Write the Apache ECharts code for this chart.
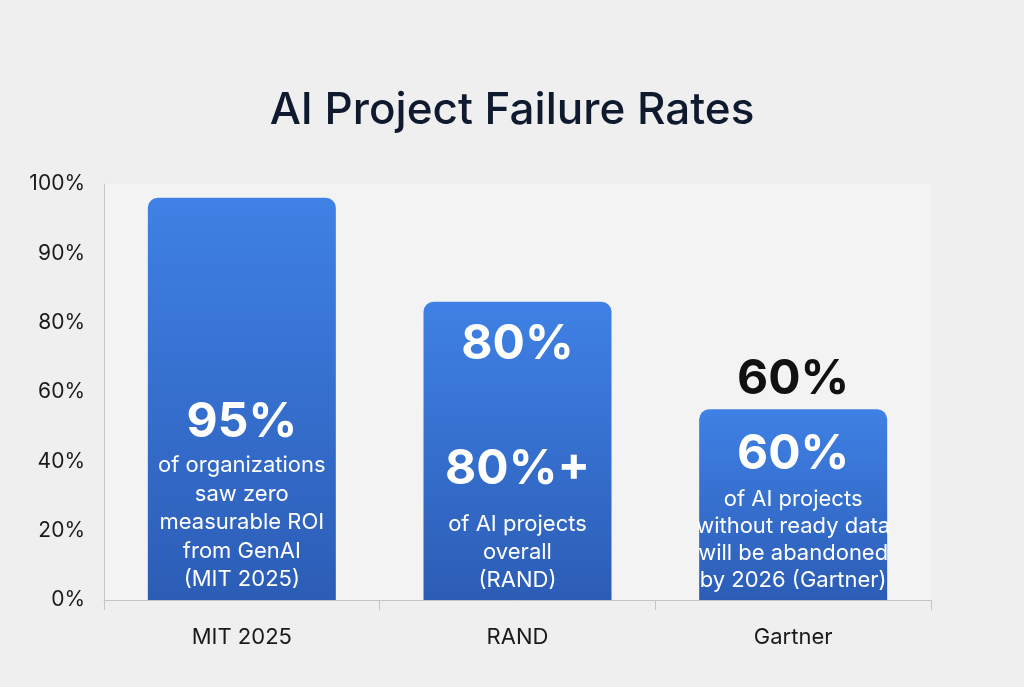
<!DOCTYPE html>
<html>
<head>
<meta charset="utf-8">
<title>AI Project Failure Rates</title>
<script src="https://cdn.jsdelivr.net/npm/echarts@6/dist/echarts.min.js"></script>
<style>
  html, body { margin: 0; padding: 0; background: #efefef; }
  #chart { width: 1024px; height: 687px; }
</style>
</head>
<body>
<div id="chart"></div>
<script>
// Données du graphique
const categories = ['MIT 2025', 'RAND', 'Gartner'];
const barValues = [98, 83, 55];
// graduations de l'axe Y (espacées régulièrement, non linéaires)
const tickValues = [0, 20, 40, 60, 80, 90, 100];
const tickLabels = ['0%', '20%', '40%', '60%', '80%', '90%', '100%'];
// textes des barres
const bigLabels = ['95%', '80%+', '60%'];
const subLines = [
    ['of organizations', 'saw zero', 'measurable ROI', 'from GenAI', '(MIT 2025)'],
    ['of AI projects', 'overall', '(RAND)'],
    ['of AI projects', 'without ready data', 'will be abandoned', 'by 2026 (Gartner)']
];
const topLabels = ['', '80%', '60%'];

const FONT = 'Inter, "Noto Sans", sans-serif';

// Conversion valeur (%) -> position sur l'axe à graduations régulières
function toAxis(v) {
    for (let i = 0; i < tickValues.length - 1; i++) {
        if (v <= tickValues[i + 1]) {
            return i + (v - tickValues[i]) / (tickValues[i + 1] - tickValues[i]);
        }
    }
    return tickValues.length - 1;
}

const chart = echarts.init(document.getElementById('chart'));

// Styles des étiquettes par barre
const numLineHeights = [58, 80, 62];
const subLineHeights = [28.5, 28, 27];
const topStyles = [
    null,
    { position: 'insideTop', distance: 19, color: '#ffffff' },
    { position: 'top', distance: 6, color: '#111111' }
];

const barColor = new echarts.graphic.LinearGradient(0, 0, 0, 1, [
    { offset: 0, color: '#3f81e5' },
    { offset: 1, color: '#2c5db6' }
]);

const mainData = barValues.map(function(v, i) {
    return {
        value: toAxis(v),
        label: {
            formatter: '{num|' + bigLabels[i] + '}\n' +
                subLines[i].map(function(s) { return '{sub|' + s + '}'; }).join('\n'),
            rich: {
                num: {
                    fontFamily: FONT,
                    fontSize: 48,
                    fontWeight: 'bold',
                    color: '#ffffff',
                    lineHeight: numLineHeights[i]
                },
                sub: {
                    fontFamily: FONT,
                    fontSize: 22,
                    color: '#ffffff',
                    lineHeight: subLineHeights[i]
                }
            }
        }
    };
});

const overlayData = barValues.map(function(v, i) {
    const st = topStyles[i];
    return {
        value: toAxis(v),
        label: st ? {
            show: true,
            formatter: topLabels[i],
            position: st.position,
            distance: st.distance,
            color: st.color,
            fontFamily: FONT,
            fontSize: 48,
            fontWeight: 'bold',
            lineHeight: 48
        } : { show: false }
    };
});

const option = {
    backgroundColor: '#efefef',
    title: {
        text: 'AI Project Failure Rates',
        left: 'center',
        top: 84,
        textStyle: {
            fontFamily: FONT,
            fontSize: 44,
            fontWeight: 500,
            color: '#101a2f'
        }
    },
    grid: {
        left: 104,
        right: 93,
        top: 184,
        bottom: 87,
        show: true,
        backgroundColor: '#f3f3f3',
        borderWidth: 0
    },
    xAxis: {
        type: 'category',
        data: categories,
        axisLine: { lineStyle: { color: '#c4c4c4', width: 1 } },
        axisTick: { show: true, length: 10, lineStyle: { color: '#c4c4c4' } },
        axisLabel: {
            fontFamily: FONT,
            fontSize: 22,
            color: '#1a1a1a',
            margin: 26
        }
    },
    yAxis: {
        type: 'value',
        min: 0,
        max: tickLabels.length - 1,
        interval: 1,
        axisLine: { show: true, lineStyle: { color: '#c8c8c8', width: 1 } },
        axisTick: { show: false },
        splitLine: { show: false },
        axisLabel: {
            fontFamily: FONT,
            fontSize: 21,
            color: '#1a1a1a',
            margin: 19,
            formatter: function(v) { return tickLabels[Math.round(v)]; }
        }
    },
    series: [
        {
            name: 'main',
            type: 'bar',
            barWidth: 188,
            silent: true,
            data: mainData,
            itemStyle: {
                color: barColor,
                borderRadius: [10, 10, 0, 0]
            },
            label: {
                show: true,
                position: 'insideBottom',
                distance: 6,
                align: 'center'
            },
            z: 2
        },
        {
            name: 'overlay',
            type: 'bar',
            barWidth: 188,
            barGap: '-100%',
            silent: true,
            data: overlayData,
            itemStyle: { color: 'rgba(0,0,0,0)' },
            z: 3
        }
    ]
};

chart.setOption(option);

window.addEventListener('resize', function() {
    chart.resize();
});
</script>
</body>
</html>
